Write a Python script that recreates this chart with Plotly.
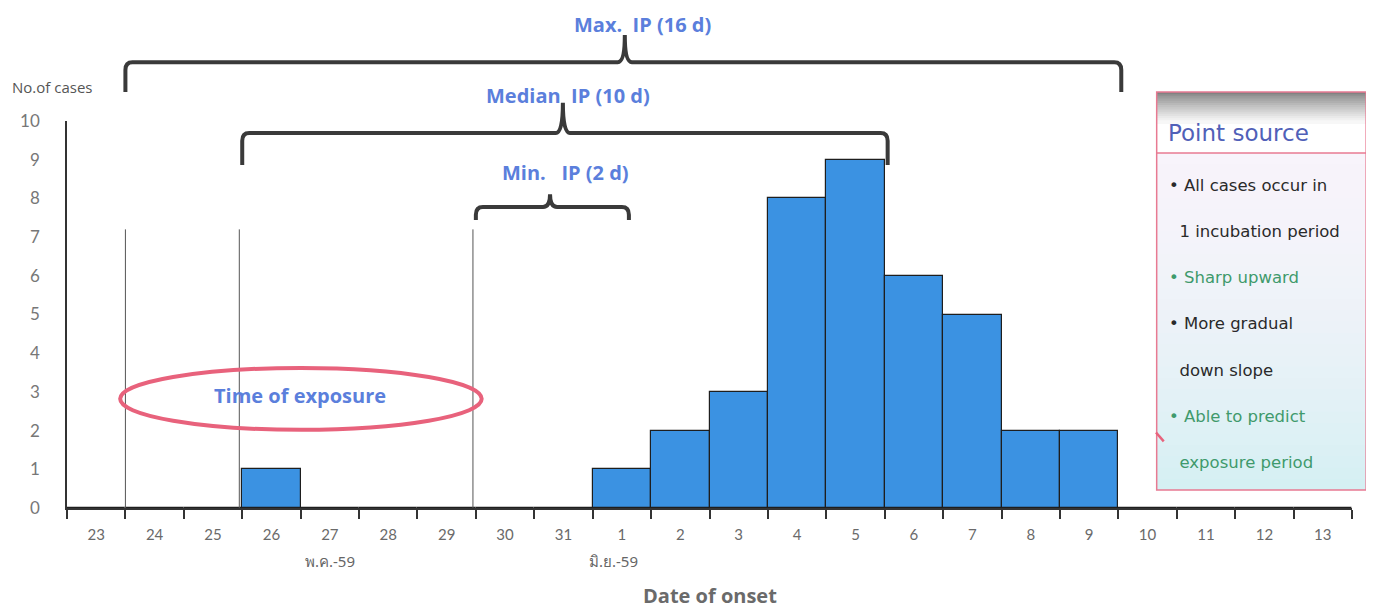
import plotly.graph_objects as go

# ---- data ----
categories = ["23", "24", "25", "26", "27", "28", "29", "30", "31",
              "1", "2", "3", "4", "5", "6", "7", "8", "9", "10", "11", "12", "13"]
cases = [0, 0, 0, 1, 0, 0, 0, 0, 0, 1, 2, 3, 8, 9, 6, 5, 2, 2, 0, 0, 0, 0]
month_labels = ["พ.ค.-59", "มิ.ย.-59"]
box_lines = [("• All cases occur in", "#2a2a2a"), ("  1 incubation period", "#2a2a2a"),
             ("• Sharp upward", "#3f9a6c"), ("• More gradual", "#2a2a2a"),
             ("  down slope", "#2a2a2a"), ("• Able to predict", "#3f9a6c"),
             ("  exposure period", "#3f9a6c")]

xpos = list(range(len(categories)))
BLUE = "#5b7fdc"
BR = "#3a3a3a"
TF = "Open Sans"

fig = go.Figure()
fig.add_trace(go.Bar(x=xpos, y=cases, width=1.0,
                     marker=dict(color="#3b92e2", line=dict(color="#1e1e1e", width=1.2)),
                     showlegend=False, hoverinfo="x+y"))

shapes = []
annotations = []


def ann(**kw):
    kw.setdefault("showarrow", False)
    kw.setdefault("xanchor", "center")
    kw.setdefault("yanchor", "middle")
    annotations.append(kw)


# vertical reference lines (in data coordinates)
for xv in [0.5, 2.45, 6.45]:
    shapes.append(dict(type="line", xref="x", yref="y", x0=xv, x1=xv, y0=0, y1=7.2,
                       line=dict(color="#555555", width=1)))


# braces
def brace(xl, xr, xc, ybar, yend, ypeak):
    dx = 0.12
    dy = 0.02
    p = (f"M {xl},{yend} L {xl},{ybar - dy} Q {xl},{ybar} {xl + dx},{ybar} "
         f"L {xc - dx},{ybar} Q {xc},{ybar} {xc},{ypeak} Q {xc},{ybar} {xc + dx},{ybar} "
         f"L {xr - dx},{ybar} Q {xr},{ybar} {xr},{ybar - dy} L {xr},{yend}")
    return dict(type="path", xref="x", yref="paper", path=p,
                line=dict(color=BR, width=4))


shapes.append(brace(0.5, 17.55, 9.05, 1.152, 1.075, 1.222))
shapes.append(brace(2.5, 13.55, 7.99, 0.969, 0.886, 1.047))
shapes.append(brace(6.5, 9.12, 7.77, 0.778, 0.744, 0.811))

ann(x=9.36, y=1.250, xref="x", yref="paper", text="<b>Max.\u00a0 IP (16 d)</b>",
    font=dict(family=TF, size=20, color=BLUE))
ann(x=8.08, y=1.067, xref="x", yref="paper", text="<b>Median\u00a0 IP (10 d)</b>",
    font=dict(family=TF, size=20, color=BLUE))
ann(x=8.04, y=0.866, xref="x", yref="paper", text="<b>Min.\u00a0\u00a0 IP (2 d)</b>",
    font=dict(family=TF, size=20, color=BLUE))

# ellipse: time of exposure
shapes.append(dict(type="circle", xref="x", yref="y", x0=0.41, x1=6.6, y0=2.02, y1=3.62,
                   line=dict(color="#e8627c", width=4)))
ann(x=3.49, y=2.92, xref="x", yref="y", text="<b>Time of exposure</b>",
    font=dict(family=TF, size=20, color=BLUE))

# Box on the right (paper coords)
bx0, bx1 = 0.848, 1.011
by_top, by_sep, by_bot = 1.075, 0.917, 0.0465
# header gradient (gray to white)
n = 14
hh = (by_top - by_sep) * 0.5
for i in range(n):
    t = i / n
    ya = by_top - hh * t
    yb = by_top - hh * (t + 1 / n) - 0.004
    g = int(130 + (255 - 130) * (t ** 0.8))
    shapes.append(dict(type="rect", xref="paper", yref="paper", x0=bx0, x1=bx1, y0=yb, y1=ya,
                       fillcolor=f"rgb({g},{g},{g})", line=dict(width=0), layer="below"))
# body gradient
m = 30
c0 = (248, 244, 251)
c1 = (212, 240, 243)
for i in range(m):
    t = i / m
    ya = by_sep - (by_sep - by_bot) * t
    yb = by_sep - (by_sep - by_bot) * (t + 1 / m) - 0.004
    tt = t ** 1.6
    col = tuple(int(c0[k] + (c1[k] - c0[k]) * tt) for k in range(3))
    shapes.append(dict(type="rect", xref="paper", yref="paper", x0=bx0, x1=bx1,
                       y0=max(yb, by_bot), y1=ya,
                       fillcolor=f"rgb{col}", line=dict(width=0), layer="below"))
shapes.append(dict(type="rect", xref="paper", yref="paper", x0=bx0, x1=bx1, y0=by_bot, y1=by_top,
                   line=dict(color="#e87a92", width=1.5)))
shapes.append(dict(type="line", xref="paper", yref="paper", x0=bx0, x1=bx1, y0=by_sep, y1=by_sep,
                   line=dict(color="#e87a92", width=1.5)))
shapes.append(dict(type="line", xref="paper", yref="paper", x0=0.8475, x1=0.8535, y0=0.195, y1=0.172,
                   line=dict(color="#e8627c", width=2.5)))

ann(x=0.855, y=0.969, xref="paper", yref="paper", text="Point source", xanchor="left",
    font=dict(family="DejaVu Sans", size=23, color="#5060b8"))
line_y_px = [185, 231, 277, 323, 370, 416, 462]
for (txt, col), ypx in zip(box_lines, line_y_px):
    ann(x=0.856, y=(508 - ypx) / 387, xref="paper", yref="paper",
        text=txt.replace(" ", "\u00a0"), xanchor="left",
        font=dict(family="DejaVu Sans", size=16.5, color=col))

# axis texts
ann(x=-0.0117, y=1.088, xref="paper", yref="paper", text="No.of cases",
    font=dict(family=TF, size=15, color="#555555"))
ann(x=4.0, y=-0.137, xref="x", yref="paper", text=month_labels[0],
    font=dict(family="Noto Sans", size=15, color="#666666"))
ann(x=8.85, y=-0.137, xref="x", yref="paper", text=month_labels[1],
    font=dict(family="Noto Sans", size=15, color="#666666"))
ann(x=0.50, y=-0.225, xref="paper", yref="paper", text="<b>Date of onset</b>",
    font=dict(family=TF, size=20, color="#6a6a6a"))

fig.update_layout(
    width=1366, height=602,
    margin=dict(l=59, r=22, t=113, b=102),
    paper_bgcolor="white", plot_bgcolor="white",
    shapes=shapes, annotations=annotations,
    bargap=0,
    xaxis=dict(range=[-0.5, len(categories) - 0.5], tickmode="array", tickvals=xpos,
               ticktext=categories, ticks="", showgrid=False, zeroline=False,
               showline=True, linecolor="#333333", linewidth=1.5,
               ticklabelstandoff=12,
               tickfont=dict(family="Lato", size=15, color="#6a6a6a"),
               minor=dict(tickmode="array", tickvals=[i - 0.5 for i in range(len(categories) + 1)],
                          ticks="outside", ticklen=9, tickcolor="#333333", tickwidth=1.5,
                          showgrid=False)),
    yaxis=dict(range=[0, 10], tickmode="array", tickvals=list(range(11)), ticks="",
               showgrid=False, zeroline=False, showline=True, linecolor="#333333", linewidth=1.5,
               ticklabelstandoff=22,
               tickfont=dict(family="Lato", size=17, color="#777777")),
)

fig.write_html("out.html")
